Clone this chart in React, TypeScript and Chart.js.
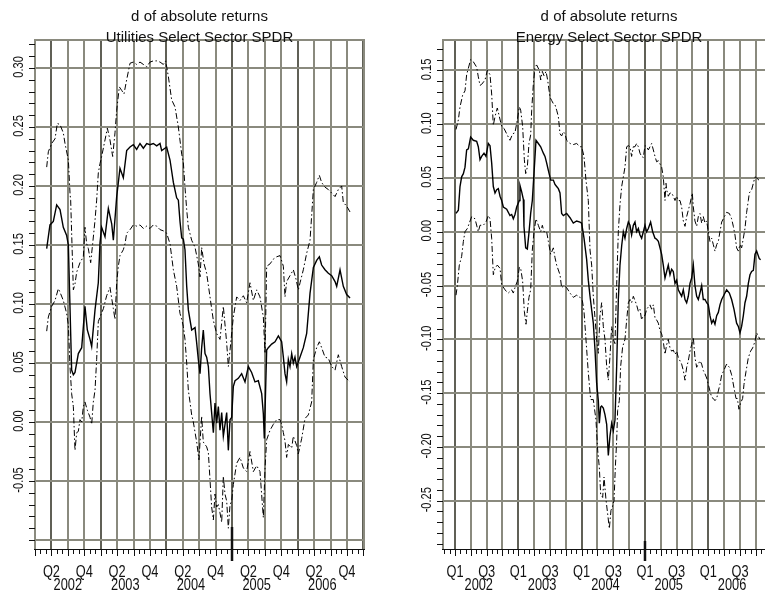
import React, { useEffect, useRef } from 'react';
import { Chart, registerables } from 'chart.js';

Chart.register(...registerables);

type Pt = [number, number];

// ---------- Utilities Select Sector SPDR ----------
const utilitiesMid: Pt[] = [
  [2002.178, 0.147], [2002.228, 0.167], [2002.279, 0.170], [2002.330, 0.184], [2002.381, 0.180], [2002.431, 0.165],
  [2002.482, 0.158], [2002.508, 0.150], [2002.558, 0.044], [2002.584, 0.040], [2002.609, 0.042], [2002.660, 0.058],
  [2002.711, 0.063], [2002.761, 0.098], [2002.797, 0.078], [2002.838, 0.070], [2002.863, 0.064], [2002.914, 0.095],
  [2002.964, 0.118], [2002.990, 0.152], [2003.015, 0.165], [2003.066, 0.157], [2003.117, 0.181], [2003.168, 0.168],
  [2003.193, 0.154], [2003.244, 0.191], [2003.294, 0.215], [2003.345, 0.207], [2003.396, 0.230], [2003.447, 0.233],
  [2003.497, 0.235], [2003.548, 0.231], [2003.599, 0.236], [2003.650, 0.232], [2003.701, 0.236], [2003.751, 0.235],
  [2003.802, 0.236], [2003.853, 0.234], [2003.904, 0.236], [2003.929, 0.230], [2004.005, 0.233], [2004.056, 0.222],
  [2004.107, 0.203], [2004.157, 0.190], [2004.183, 0.188], [2004.208, 0.170], [2004.234, 0.156], [2004.259, 0.155],
  [2004.284, 0.146], [2004.310, 0.115], [2004.335, 0.095], [2004.386, 0.078], [2004.437, 0.080], [2004.462, 0.067],
  [2004.487, 0.053], [2004.513, 0.041], [2004.538, 0.063], [2004.563, 0.078], [2004.589, 0.058], [2004.614, 0.055],
  [2004.640, 0.047], [2004.665, 0.024], [2004.716, -0.009], [2004.741, 0.016], [2004.766, -0.001], [2004.792, 0.013],
  [2004.817, -0.007], [2004.843, 0.008], [2004.868, -0.012], [2004.919, 0.008], [2004.944, -0.024], [2004.970, 0.002],
  [2004.995, 0.004], [2005.020, 0.030], [2005.046, 0.035], [2005.096, 0.037], [2005.147, 0.041], [2005.198, 0.034],
  [2005.249, 0.047], [2005.299, 0.042], [2005.350, 0.034], [2005.401, 0.035], [2005.452, 0.024], [2005.477, 0.007],
  [2005.492, -0.014], [2005.528, 0.061], [2005.553, 0.063], [2005.604, 0.066], [2005.655, 0.068], [2005.706, 0.073],
  [2005.756, 0.068], [2005.782, 0.055], [2005.807, 0.041], [2005.832, 0.034], [2005.858, 0.053], [2005.883, 0.047],
  [2005.909, 0.058], [2005.934, 0.050], [2005.959, 0.055], [2005.985, 0.047], [2006.036, 0.055], [2006.086, 0.063],
  [2006.137, 0.075], [2006.188, 0.109], [2006.239, 0.131], [2006.289, 0.137], [2006.330, 0.140], [2006.365, 0.133],
  [2006.416, 0.129], [2006.467, 0.126], [2006.518, 0.124], [2006.569, 0.119], [2006.594, 0.115], [2006.645, 0.129],
  [2006.695, 0.115], [2006.746, 0.108], [2006.797, 0.105],
];

const utilitiesUpper: Pt[] = [
  [2002.178, 0.216], [2002.203, 0.229], [2002.254, 0.236], [2002.305, 0.240], [2002.340, 0.253], [2002.381, 0.252],
  [2002.431, 0.245], [2002.457, 0.236], [2002.508, 0.222], [2002.533, 0.194], [2002.543, 0.188], [2002.584, 0.112],
  [2002.609, 0.117], [2002.635, 0.127], [2002.685, 0.135], [2002.736, 0.140], [2002.761, 0.165], [2002.787, 0.151],
  [2002.812, 0.147], [2002.848, 0.135], [2002.878, 0.151], [2002.914, 0.171], [2002.939, 0.188], [2002.964, 0.211],
  [2002.990, 0.219], [2003.015, 0.225], [2003.066, 0.239], [2003.102, 0.249], [2003.142, 0.239], [2003.183, 0.225],
  [2003.218, 0.245], [2003.244, 0.264], [2003.284, 0.284], [2003.320, 0.281], [2003.355, 0.278], [2003.396, 0.290],
  [2003.447, 0.304], [2003.497, 0.305], [2003.548, 0.303], [2003.599, 0.305], [2003.701, 0.301], [2003.751, 0.305],
  [2003.802, 0.306], [2003.853, 0.306], [2003.904, 0.305], [2003.954, 0.303], [2003.990, 0.306], [2004.030, 0.293],
  [2004.081, 0.273], [2004.132, 0.267], [2004.183, 0.250], [2004.234, 0.227], [2004.259, 0.220], [2004.284, 0.199],
  [2004.310, 0.180], [2004.335, 0.165], [2004.386, 0.154], [2004.437, 0.148], [2004.487, 0.134], [2004.513, 0.123],
  [2004.538, 0.148], [2004.574, 0.134], [2004.614, 0.126], [2004.665, 0.106], [2004.716, 0.086], [2004.766, 0.075],
  [2004.817, 0.070], [2004.868, 0.098], [2004.919, 0.067], [2004.944, 0.047], [2004.970, 0.061], [2005.020, 0.089],
  [2005.071, 0.106], [2005.122, 0.103], [2005.173, 0.107], [2005.223, 0.101], [2005.274, 0.118], [2005.325, 0.103],
  [2005.376, 0.112], [2005.426, 0.106], [2005.477, 0.089], [2005.503, 0.058], [2005.528, 0.132], [2005.579, 0.134],
  [2005.629, 0.138], [2005.680, 0.140], [2005.731, 0.141], [2005.782, 0.132], [2005.807, 0.106], [2005.832, 0.119],
  [2005.883, 0.124], [2005.934, 0.129], [2005.975, 0.121], [2006.010, 0.112], [2006.036, 0.118], [2006.086, 0.129],
  [2006.137, 0.143], [2006.188, 0.154], [2006.213, 0.175], [2006.239, 0.197], [2006.289, 0.203], [2006.330, 0.209],
  [2006.365, 0.203], [2006.416, 0.199], [2006.467, 0.197], [2006.518, 0.194], [2006.569, 0.191], [2006.619, 0.197],
  [2006.670, 0.200], [2006.695, 0.186], [2006.746, 0.183], [2006.797, 0.178],
];

const utilitiesLower: Pt[] = [
  [2002.178, 0.077], [2002.203, 0.089], [2002.254, 0.098], [2002.305, 0.103], [2002.355, 0.113], [2002.381, 0.110],
  [2002.431, 0.103], [2002.482, 0.092], [2002.508, 0.082], [2002.533, 0.047], [2002.558, 0.024], [2002.584, 0.013],
  [2002.609, -0.024], [2002.635, -0.009], [2002.660, -0.008], [2002.685, 0.002], [2002.711, 0.000], [2002.736, 0.013],
  [2002.761, 0.017], [2002.797, 0.010], [2002.838, 0.004], [2002.863, -0.002], [2002.888, 0.017], [2002.914, 0.027],
  [2002.939, 0.053], [2002.964, 0.085], [2002.990, 0.089], [2003.041, 0.096], [2003.091, 0.107], [2003.142, 0.114],
  [2003.193, 0.096], [2003.218, 0.087], [2003.244, 0.118], [2003.269, 0.132], [2003.294, 0.141], [2003.345, 0.146],
  [2003.371, 0.151], [2003.396, 0.160], [2003.447, 0.163], [2003.497, 0.167], [2003.548, 0.166], [2003.599, 0.167],
  [2003.650, 0.164], [2003.701, 0.166], [2003.751, 0.164], [2003.802, 0.167], [2003.853, 0.166], [2003.904, 0.163],
  [2003.954, 0.162], [2004.005, 0.160], [2004.056, 0.151], [2004.107, 0.129], [2004.157, 0.115], [2004.208, 0.092],
  [2004.234, 0.087], [2004.259, 0.081], [2004.284, 0.070], [2004.310, 0.050], [2004.335, 0.027], [2004.360, 0.017],
  [2004.386, 0.006], [2004.411, 0.000], [2004.462, -0.017], [2004.497, -0.032], [2004.513, -0.017], [2004.538, 0.005],
  [2004.563, -0.017], [2004.614, -0.021], [2004.640, -0.026], [2004.665, -0.049], [2004.690, -0.072], [2004.716, -0.083],
  [2004.741, -0.061], [2004.766, -0.072], [2004.792, -0.070], [2004.817, -0.077], [2004.843, -0.085], [2004.868, -0.046],
  [2004.893, -0.061], [2004.919, -0.067], [2004.944, -0.090], [2004.970, -0.070], [2004.995, -0.067], [2005.020, -0.053],
  [2005.071, -0.035], [2005.122, -0.030], [2005.173, -0.039], [2005.223, -0.042], [2005.274, -0.025], [2005.325, -0.042],
  [2005.376, -0.037], [2005.426, -0.042], [2005.477, -0.081], [2005.503, -0.039], [2005.528, -0.015], [2005.579, -0.007],
  [2005.629, -0.002], [2005.680, 0.002], [2005.731, 0.002], [2005.756, -0.002], [2005.782, -0.009], [2005.807, -0.016],
  [2005.832, -0.030], [2005.858, -0.019], [2005.909, -0.022], [2005.934, -0.012], [2005.985, -0.020], [2006.010, -0.027],
  [2006.061, -0.014], [2006.112, 0.003], [2006.162, 0.006], [2006.213, 0.017], [2006.239, 0.053], [2006.289, 0.063],
  [2006.330, 0.068], [2006.365, 0.063], [2006.416, 0.055], [2006.467, 0.054], [2006.518, 0.047], [2006.569, 0.044],
  [2006.619, 0.057], [2006.670, 0.047], [2006.721, 0.038], [2006.797, 0.034],
];

const utilitiesYGrid = [-0.10, -0.05, 0.0, 0.05, 0.10, 0.15, 0.20, 0.25, 0.30];
const utilitiesYLabels = [-0.05, 0.0, 0.05, 0.10, 0.15, 0.20, 0.25, 0.30];
const utilitiesQuarterLabels = ['Q2', 'Q4'];

// ---------- Energy Select Sector SPDR ----------
const energyMid: Pt[] = [
  [2002.016, 0.017], [2002.053, 0.020], [2002.079, 0.042], [2002.105, 0.051], [2002.132, 0.054], [2002.158, 0.060],
  [2002.184, 0.076], [2002.211, 0.077], [2002.247, 0.088], [2002.289, 0.085], [2002.342, 0.084], [2002.368, 0.079],
  [2002.395, 0.067], [2002.421, 0.070], [2002.458, 0.073], [2002.489, 0.070], [2002.526, 0.082], [2002.553, 0.080],
  [2002.579, 0.064], [2002.605, 0.042], [2002.632, 0.036], [2002.658, 0.039], [2002.684, 0.040], [2002.711, 0.033],
  [2002.737, 0.029], [2002.763, 0.023], [2002.816, 0.021], [2002.868, 0.015], [2002.895, 0.016], [2002.921, 0.012],
  [2002.947, 0.016], [2002.974, 0.023], [2003.016, 0.029], [2003.026, 0.043], [2003.053, 0.037], [2003.079, 0.030],
  [2003.089, 0.005], [2003.116, -0.015], [2003.142, -0.016], [2003.168, -0.001], [2003.195, 0.017], [2003.221, 0.029],
  [2003.247, 0.054], [2003.279, 0.085], [2003.316, 0.082], [2003.353, 0.079], [2003.395, 0.073], [2003.421, 0.070],
  [2003.447, 0.064], [2003.474, 0.057], [2003.511, 0.048], [2003.553, 0.048], [2003.579, 0.044], [2003.605, 0.042],
  [2003.632, 0.040], [2003.658, 0.036], [2003.684, 0.017], [2003.711, 0.015], [2003.763, 0.017], [2003.816, 0.013],
  [2003.868, 0.008], [2003.921, 0.010], [2003.974, 0.009], [2004.000, 0.008], [2004.037, -0.006], [2004.079, -0.026],
  [2004.105, -0.045], [2004.132, -0.060], [2004.184, -0.085], [2004.211, -0.110], [2004.237, -0.141], [2004.263, -0.157],
  [2004.279, -0.178], [2004.300, -0.163], [2004.316, -0.162], [2004.342, -0.164], [2004.368, -0.170], [2004.395, -0.179],
  [2004.421, -0.208], [2004.447, -0.190], [2004.474, -0.178], [2004.500, -0.185], [2004.526, -0.175], [2004.553, -0.125],
  [2004.579, -0.063], [2004.605, -0.031], [2004.632, -0.013], [2004.658, 0.000], [2004.684, -0.006], [2004.711, 0.003],
  [2004.737, 0.009], [2004.763, 0.006], [2004.789, -0.003], [2004.816, 0.006], [2004.842, 0.009], [2004.868, 0.000],
  [2004.895, 0.003], [2004.921, -0.003], [2004.947, -0.006], [2004.974, 0.000], [2005.000, 0.006], [2005.026, 0.000],
  [2005.053, 0.003], [2005.089, 0.009], [2005.121, 0.000], [2005.158, -0.006], [2005.184, -0.007], [2005.211, -0.009],
  [2005.237, -0.015], [2005.263, -0.021], [2005.289, -0.031], [2005.316, -0.043], [2005.342, -0.037], [2005.368, -0.031],
  [2005.395, -0.040], [2005.421, -0.035], [2005.447, -0.037], [2005.474, -0.048], [2005.500, -0.045], [2005.526, -0.054],
  [2005.553, -0.057], [2005.579, -0.060], [2005.605, -0.054], [2005.632, -0.063], [2005.658, -0.066], [2005.684, -0.060],
  [2005.711, -0.048], [2005.737, -0.043], [2005.763, -0.031], [2005.789, -0.050], [2005.816, -0.060], [2005.842, -0.063],
  [2005.868, -0.057], [2005.895, -0.050], [2005.921, -0.063], [2005.947, -0.063], [2005.974, -0.066], [2006.000, -0.068],
  [2006.026, -0.078], [2006.053, -0.085], [2006.079, -0.082], [2006.105, -0.086], [2006.132, -0.078], [2006.158, -0.075],
  [2006.184, -0.068], [2006.211, -0.063], [2006.237, -0.060], [2006.263, -0.057], [2006.289, -0.054], [2006.332, -0.057],
  [2006.368, -0.063], [2006.405, -0.072], [2006.447, -0.085], [2006.474, -0.088], [2006.500, -0.094], [2006.526, -0.088],
  [2006.553, -0.078], [2006.579, -0.066], [2006.605, -0.060], [2006.632, -0.048], [2006.658, -0.040], [2006.684, -0.037],
  [2006.711, -0.036], [2006.737, -0.021], [2006.763, -0.018], [2006.805, -0.025], [2006.826, -0.026],
];

const energyUpper: Pt[] = [
  [2002.016, 0.095], [2002.053, 0.104], [2002.079, 0.116], [2002.121, 0.127], [2002.158, 0.131], [2002.184, 0.146],
  [2002.211, 0.152], [2002.247, 0.160], [2002.289, 0.158], [2002.342, 0.153], [2002.368, 0.144], [2002.395, 0.136],
  [2002.421, 0.137], [2002.474, 0.141], [2002.511, 0.150], [2002.553, 0.146], [2002.579, 0.128], [2002.605, 0.099],
  [2002.632, 0.107], [2002.668, 0.115], [2002.700, 0.107], [2002.737, 0.098], [2002.774, 0.096], [2002.816, 0.091],
  [2002.868, 0.085], [2002.911, 0.091], [2002.947, 0.092], [2002.984, 0.104], [2003.016, 0.116], [2003.037, 0.113],
  [2003.068, 0.098], [2003.095, 0.067], [2003.116, 0.054], [2003.142, 0.060], [2003.168, 0.082], [2003.195, 0.090],
  [2003.211, 0.113], [2003.237, 0.137], [2003.263, 0.153], [2003.289, 0.155], [2003.332, 0.150], [2003.353, 0.141],
  [2003.379, 0.149], [2003.405, 0.145], [2003.437, 0.149], [2003.463, 0.141], [2003.500, 0.125], [2003.526, 0.122],
  [2003.553, 0.119], [2003.579, 0.118], [2003.605, 0.113], [2003.632, 0.107], [2003.658, 0.091], [2003.684, 0.089],
  [2003.711, 0.093], [2003.737, 0.091], [2003.763, 0.085], [2003.816, 0.082], [2003.868, 0.081], [2003.921, 0.082],
  [2003.974, 0.079], [2004.000, 0.079], [2004.037, 0.070], [2004.068, 0.048], [2004.105, 0.029], [2004.132, -0.017],
  [2004.158, -0.031], [2004.184, -0.060], [2004.237, -0.100], [2004.263, -0.113], [2004.289, -0.078], [2004.316, -0.066],
  [2004.342, -0.088], [2004.368, -0.100], [2004.395, -0.125], [2004.421, -0.138], [2004.447, -0.116], [2004.474, -0.088],
  [2004.500, -0.100], [2004.526, -0.104], [2004.553, -0.049], [2004.579, 0.000], [2004.605, 0.025], [2004.632, 0.042],
  [2004.684, 0.060], [2004.711, 0.079], [2004.737, 0.080], [2004.763, 0.079], [2004.789, 0.070], [2004.816, 0.079],
  [2004.842, 0.079], [2004.868, 0.082], [2004.895, 0.079], [2004.921, 0.073], [2004.947, 0.070], [2004.974, 0.069],
  [2005.000, 0.080], [2005.026, 0.079], [2005.053, 0.076], [2005.079, 0.079], [2005.105, 0.082], [2005.132, 0.076],
  [2005.158, 0.070], [2005.184, 0.065], [2005.211, 0.066], [2005.237, 0.063], [2005.263, 0.060], [2005.289, 0.051],
  [2005.316, 0.029], [2005.332, 0.045], [2005.342, 0.039], [2005.368, 0.033], [2005.395, 0.036], [2005.421, 0.036],
  [2005.447, 0.033], [2005.474, 0.029], [2005.500, 0.033], [2005.526, 0.029], [2005.553, 0.029], [2005.579, 0.023],
  [2005.605, 0.010], [2005.632, 0.005], [2005.658, 0.014], [2005.684, 0.020], [2005.711, 0.026], [2005.747, 0.036],
  [2005.763, 0.023], [2005.789, 0.010], [2005.816, 0.005], [2005.842, 0.014], [2005.868, 0.017], [2005.895, 0.008],
  [2005.921, 0.014], [2005.947, 0.008], [2005.974, 0.010], [2006.000, 0.000], [2006.026, -0.009], [2006.053, -0.006],
  [2006.079, -0.012], [2006.105, -0.018], [2006.132, -0.012], [2006.158, -0.009], [2006.184, 0.000], [2006.211, 0.009],
  [2006.237, 0.012], [2006.289, 0.018], [2006.332, 0.017], [2006.368, 0.012], [2006.395, 0.005], [2006.421, -0.003],
  [2006.447, -0.015], [2006.474, -0.018], [2006.500, -0.012], [2006.526, -0.015], [2006.553, -0.006], [2006.579, 0.003],
  [2006.605, 0.018], [2006.632, 0.029], [2006.647, 0.036], [2006.684, 0.039], [2006.711, 0.045], [2006.737, 0.051],
  [2006.763, 0.050], [2006.816, 0.047],
];

const energyLower: Pt[] = [
  [2002.016, -0.059], [2002.037, -0.050], [2002.068, -0.031], [2002.105, -0.023], [2002.132, -0.009], [2002.158, 0.000],
  [2002.195, 0.003], [2002.226, 0.008], [2002.263, 0.014], [2002.316, 0.012], [2002.368, 0.000], [2002.395, 0.006],
  [2002.447, 0.006], [2002.489, 0.009], [2002.526, 0.015], [2002.553, 0.012], [2002.579, -0.006], [2002.605, -0.040],
  [2002.632, -0.034], [2002.668, -0.031], [2002.711, -0.034], [2002.737, -0.049], [2002.789, -0.054], [2002.842, -0.057],
  [2002.895, -0.054], [2002.921, -0.057], [2002.947, -0.052], [2002.984, -0.046], [2003.016, -0.033], [2003.037, -0.034],
  [2003.068, -0.046], [2003.095, -0.074], [2003.121, -0.086], [2003.142, -0.074], [2003.168, -0.061], [2003.195, -0.054],
  [2003.221, -0.017], [2003.247, 0.000], [2003.279, 0.012], [2003.316, 0.006], [2003.353, 0.000], [2003.379, 0.006],
  [2003.405, 0.000], [2003.447, 0.000], [2003.474, -0.009], [2003.511, -0.021], [2003.553, -0.015], [2003.579, -0.024],
  [2003.605, -0.031], [2003.658, -0.040], [2003.684, -0.052], [2003.721, -0.050], [2003.763, -0.052], [2003.816, -0.057],
  [2003.868, -0.061], [2003.921, -0.059], [2003.974, -0.061], [2004.011, -0.064], [2004.037, -0.074], [2004.068, -0.100],
  [2004.105, -0.131], [2004.142, -0.156], [2004.184, -0.156], [2004.226, -0.175], [2004.253, -0.203], [2004.279, -0.219],
  [2004.300, -0.244], [2004.332, -0.247], [2004.353, -0.228], [2004.384, -0.249], [2004.416, -0.265], [2004.437, -0.276],
  [2004.463, -0.259], [2004.484, -0.256], [2004.511, -0.250], [2004.532, -0.219], [2004.553, -0.194], [2004.568, -0.166],
  [2004.595, -0.157], [2004.616, -0.125], [2004.647, -0.107], [2004.684, -0.100], [2004.711, -0.082], [2004.737, -0.066],
  [2004.763, -0.063], [2004.789, -0.066], [2004.816, -0.060], [2004.842, -0.064], [2004.868, -0.068], [2004.895, -0.074],
  [2004.921, -0.072], [2004.947, -0.082], [2004.974, -0.078], [2005.000, -0.078], [2005.026, -0.072], [2005.079, -0.068],
  [2005.105, -0.072], [2005.132, -0.068], [2005.158, -0.080], [2005.184, -0.082], [2005.211, -0.085], [2005.237, -0.092],
  [2005.263, -0.095], [2005.289, -0.102], [2005.316, -0.114], [2005.342, -0.105], [2005.368, -0.100], [2005.395, -0.108],
  [2005.421, -0.111], [2005.447, -0.110], [2005.474, -0.114], [2005.500, -0.111], [2005.526, -0.117], [2005.579, -0.123],
  [2005.605, -0.129], [2005.632, -0.138], [2005.658, -0.126], [2005.684, -0.120], [2005.711, -0.111], [2005.737, -0.105],
  [2005.763, -0.098], [2005.789, -0.117], [2005.816, -0.126], [2005.842, -0.123], [2005.868, -0.120], [2005.895, -0.123],
  [2005.921, -0.129], [2005.947, -0.132], [2005.974, -0.136], [2006.000, -0.142], [2006.026, -0.148], [2006.053, -0.154],
  [2006.079, -0.155], [2006.105, -0.157], [2006.132, -0.155], [2006.158, -0.148], [2006.184, -0.142], [2006.211, -0.133],
  [2006.237, -0.130], [2006.289, -0.123], [2006.332, -0.126], [2006.368, -0.133], [2006.405, -0.145], [2006.437, -0.155],
  [2006.458, -0.155], [2006.484, -0.165], [2006.511, -0.159], [2006.542, -0.155], [2006.563, -0.142], [2006.595, -0.130],
  [2006.632, -0.117], [2006.668, -0.111], [2006.700, -0.108], [2006.737, -0.102], [2006.763, -0.094], [2006.789, -0.097],
  [2006.816, -0.100],
];

const energyYGrid = [-0.25, -0.20, -0.15, -0.10, -0.05, 0.0, 0.05, 0.10, 0.15];
const energyYLabels = [-0.25, -0.20, -0.15, -0.10, -0.05, 0.0, 0.05, 0.10, 0.15];
const energyQuarterLabels = ['Q1', 'Q3'];

const quarterNames = ['Q1', 'Q2', 'Q3', 'Q4'];
const yearLabels = [2002, 2003, 2004, 2005, 2006];
const mainTitle = 'd of absolute returns';

// ---------- styling ----------
const FONT = '"Liberation Sans", Arial, Helvetica, sans-serif';
const GRID = '#8a8a7e';
const GRID_DARK = '#606056';

interface PanelSpec {
  id: string;
  subtitle: string;
  mid: Pt[];
  upper: Pt[];
  lower: Pt[];
  xMin: number;
  xMax: number;
  yMin: number;
  yMax: number;
  yGrid: number[];
  yLabels: number[];
  quarterLabels: string[];
  canvasWidth: number;
  plotLeft: number;
  plotRightPad: number;
  markYear: number;
  markAbove: number;
}

const TOP = 40;
const BOTTOM = 549;
const H = 591;

function quarterTicks(min: number, max: number): number[] {
  const out: number[] = [];
  for (let q = Math.ceil(min * 4 - 1e-6); q / 4 <= max + 1e-9; q++) out.push(q / 4);
  return out;
}

function monthTicks(min: number, max: number): number[] {
  const out: number[] = [];
  for (let m = Math.ceil(min * 12 - 1e-6); m / 12 <= max + 1e-9; m++) out.push(m / 12);
  return out;
}

function drawRotated(ctx: CanvasRenderingContext2D, text: string, cx: number, cy: number, fs: number, sx: number) {
  ctx.save();
  ctx.translate(cx, cy);
  ctx.rotate(-Math.PI / 2);
  ctx.scale(sx, 1);
  ctx.textAlign = 'center';
  ctx.textBaseline = 'alphabetic';
  ctx.fillText(text, 0, fs * 0.358);
  ctx.restore();
}

function drawScaledText(ctx: CanvasRenderingContext2D, text: string, cx: number, baseline: number, sx: number) {
  ctx.save();
  ctx.translate(cx, baseline);
  ctx.scale(sx, 1);
  ctx.textAlign = 'center';
  ctx.textBaseline = 'alphabetic';
  ctx.fillText(text, 0, 0);
  ctx.restore();
}

function makePlugin(spec: PanelSpec) {
  return {
    id: 'decor_' + spec.id,
    afterDraw(chart: any) {
      const ctx: CanvasRenderingContext2D = chart.ctx;
      const { left, right, top, bottom } = chart.chartArea;
      const xs = chart.scales.x;
      const ys = chart.scales.y;
      ctx.save();

      // box (gray)
      ctx.strokeStyle = GRID;
      ctx.lineWidth = 2;
      ctx.beginPath();
      ctx.moveTo(left, bottom);
      ctx.lineTo(left, top);
      ctx.lineTo(right, top);
      ctx.lineTo(right, bottom);
      ctx.stroke();

      // bottom axis line
      ctx.strokeStyle = '#111';
      ctx.lineWidth = 1;
      ctx.beginPath();
      ctx.moveTo(left - 1, bottom + 0.5);
      ctx.lineTo(right + 1, bottom + 0.5);
      ctx.stroke();

      // monthly ticks below axis
      for (const m of monthTicks(spec.xMin, spec.xMax)) {
        const px = Math.round(xs.getPixelForValue(m)) + 0.5;
        const isQ = Math.abs(m * 4 - Math.round(m * 4)) < 1e-6;
        ctx.beginPath();
        ctx.moveTo(px, bottom + 1);
        ctx.lineTo(px, bottom + (isQ ? 7 : 5));
        ctx.stroke();
      }
      // heavy marker tick
      {
        const px = xs.getPixelForValue(spec.markYear);
        ctx.lineWidth = 2.5;
        ctx.beginPath();
        ctx.moveTo(px, bottom - spec.markAbove);
        ctx.lineTo(px, bottom + 12);
        ctx.stroke();
        ctx.lineWidth = 1;
      }

      // y minor ticks every 0.01
      const y0 = Math.ceil(spec.yMin * 100 - 1e-6);
      const y1 = Math.floor(spec.yMax * 100 + 1e-6);
      for (let k = y0; k <= y1; k++) {
        const py = Math.round(ys.getPixelForValue(k / 100)) + 0.5;
        ctx.beginPath();
        ctx.moveTo(left - 6, py);
        ctx.lineTo(left, py);
        ctx.stroke();
      }

      ctx.fillStyle = '#111';
      // y labels (rotated)
      const yfs = 15;
      ctx.font = `${yfs}px ${FONT}`;
      for (const v of spec.yLabels) {
        drawRotated(ctx, v.toFixed(2), left - 17.5, ys.getPixelForValue(v) - 1, yfs, 0.74);
      }

      // x labels
      const xfs = 16;
      ctx.font = `${xfs}px ${FONT}`;
      const qs = quarterTicks(spec.xMin, spec.xMax);
      const inner = qs.filter(
        (q) => q > spec.xMin + 0.02 && q < spec.xMax - 0.02 && yearLabels.includes(Math.floor(q + 1e-6))
      );
      for (const q of inner) {
        const idx = Math.round((q - Math.floor(q + 1e-6)) * 4) % 4;
        const name = quarterNames[idx];
        if (spec.quarterLabels.includes(name)) {
          drawScaledText(ctx, name, xs.getPixelForValue(q), 577, 0.8);
        }
      }
      // year labels centred under the quarters of each year inside the axis
      for (const yr of yearLabels) {
        const ofYear = inner.filter((q) => Math.floor(q + 1e-6) === yr);
        if (!ofYear.length) continue;
        const c = (ofYear[0] + ofYear[ofYear.length - 1]) / 2;
        drawScaledText(ctx, String(yr), xs.getPixelForValue(c), 590, 0.8);
      }

      // titles
      const cx = (left + right) / 2;
      ctx.font = `15px ${FONT}`;
      ctx.textAlign = 'center';
      ctx.textBaseline = 'alphabetic';
      ctx.fillText(mainTitle, cx, 21);
      ctx.fillText(spec.subtitle, cx, 42);

      ctx.restore();
    },
  };
}

function Panel({ spec, x }: { spec: PanelSpec; x: number }) {
  const ref = useRef<HTMLCanvasElement | null>(null);
  useEffect(() => {
    const canvas = ref.current;
    if (!canvas) return;
    const qs = quarterTicks(spec.xMin, spec.xMax);
    const firstInner = qs.find((q) => q > spec.xMin + 0.02);
    const toXY = (arr: Pt[]) => arr.map(([t, v]) => ({ x: t, y: v }));
    const chart = new Chart(canvas, {
      type: 'line',
      data: {
        datasets: [
          {
            data: toXY(spec.upper),
            borderColor: '#000',
            borderWidth: 1,
            borderDash: [6, 2.5, 1.5, 2.5],
            pointRadius: 0,
            tension: 0,
          },
          {
            data: toXY(spec.lower),
            borderColor: '#000',
            borderWidth: 1,
            borderDash: [6, 2.5, 1.5, 2.5],
            pointRadius: 0,
            tension: 0,
          },
          {
            data: toXY(spec.mid),
            borderColor: '#000',
            borderWidth: 1.4,
            pointRadius: 0,
            tension: 0,
          },
        ],
      },
      options: {
        responsive: false,
        animation: false,
        events: [],
        layout: { padding: { top: TOP, left: 0, right: spec.plotRightPad, bottom: 0 } },
        plugins: { legend: { display: false }, tooltip: { enabled: false }, title: { display: false } },
        scales: {
          x: {
            type: 'linear',
            min: spec.xMin,
            max: spec.xMax,
            afterBuildTicks: (scale: any) => {
              scale.ticks = qs.map((v) => ({ value: v }));
            },
            afterFit: (scale: any) => {
              scale.height = H - BOTTOM;
            },
            ticks: { display: false },
            border: { display: false },
            grid: {
              drawTicks: false,
              lineWidth: 2,
              color: (c: any) => {
                const v = c.tick ? c.tick.value : 0;
                const isYear = Math.abs(v - Math.round(v)) < 1e-6;
                return isYear || (firstInner !== undefined && Math.abs(v - firstInner) < 1e-6) ? GRID_DARK : GRID;
              },
            },
          },
          y: {
            type: 'linear',
            min: spec.yMin,
            max: spec.yMax,
            afterBuildTicks: (scale: any) => {
              scale.ticks = spec.yGrid.map((v) => ({ value: v }));
            },
            afterFit: (scale: any) => {
              scale.width = spec.plotLeft;
            },
            ticks: { display: false },
            border: { display: false },
            grid: { drawTicks: false, lineWidth: 2, color: GRID },
          },
        },
      },
      plugins: [makePlugin(spec)],
    } as any);
    return () => chart.destroy();
  }, [spec]);
  return (
    <canvas
      ref={ref}
      width={spec.canvasWidth}
      height={H}
      style={{ position: 'absolute', left: x, top: 0, width: spec.canvasWidth, height: H }}
    />
  );
}

const utilitiesSpec: PanelSpec = {
  id: 'util',
  subtitle: 'Utilities Select Sector SPDR',
  mid: utilitiesMid,
  upper: utilitiesUpper,
  lower: utilitiesLower,
  xMin: 2002.0,
  xMax: 2007.01,
  yMin: -0.1076,
  yMax: 0.3237,
  yGrid: utilitiesYGrid,
  yLabels: utilitiesYLabels,
  quarterLabels: utilitiesQuarterLabels,
  canvasWidth: 382,
  plotLeft: 35,
  plotRightPad: 18,
  markYear: 2005,
  markAbove: 22,
};

const energySpec: PanelSpec = {
  id: 'energy',
  subtitle: 'Energy Select Sector SPDR',
  mid: energyMid,
  upper: energyUpper,
  lower: energyLower,
  xMin: 2001.8105,
  xMax: 2007.053,
  yMin: -0.2949,
  yMax: 0.1782,
  yGrid: energyYGrid,
  yLabels: energyYLabels,
  quarterLabels: energyQuarterLabels,
  canvasWidth: 400,
  plotLeft: 61,
  plotRightPad: 7,
  markYear: 2005,
  markAbove: 8,
};

export default function App() {
  return (
    <div
      style={{
        position: 'fixed',
        left: 0,
        top: 0,
        width: 765,
        height: 591,
        overflow: 'hidden',
        background: '#fff',
      }}
    >
      <Panel spec={utilitiesSpec} x={0} />
      <Panel spec={energySpec} x={382} />
    </div>
  );
}
